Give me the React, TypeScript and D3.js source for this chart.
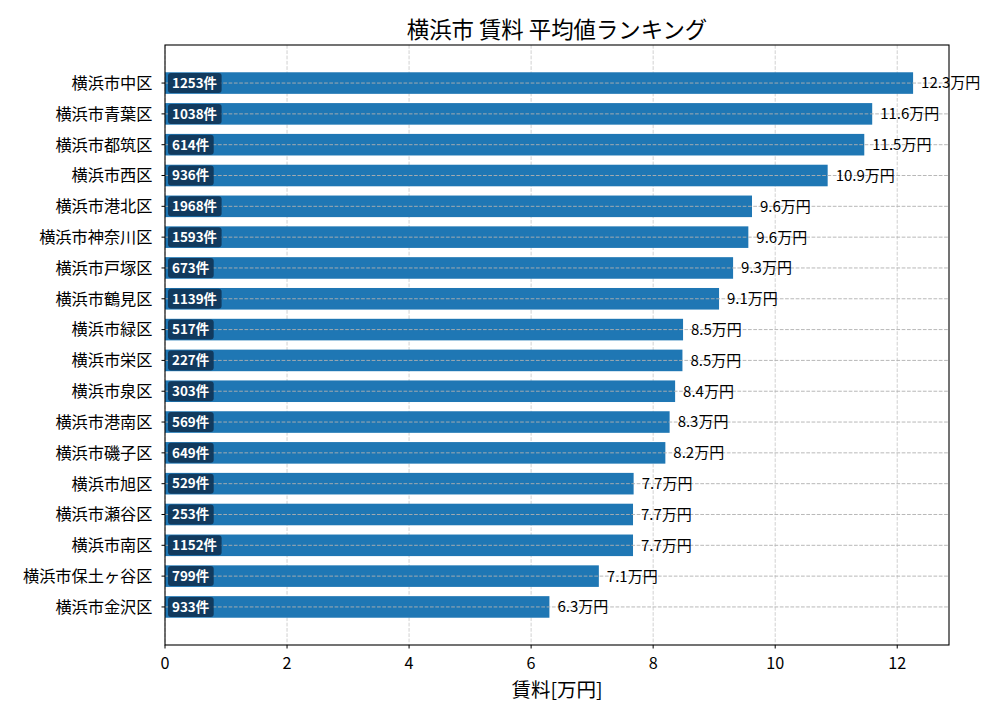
import * as d3 from "d3";

const wards = [
  "横浜市中区",
  "横浜市青葉区",
  "横浜市都筑区",
  "横浜市西区",
  "横浜市港北区",
  "横浜市神奈川区",
  "横浜市戸塚区",
  "横浜市鶴見区",
  "横浜市緑区",
  "横浜市栄区",
  "横浜市泉区",
  "横浜市港南区",
  "横浜市磯子区",
  "横浜市旭区",
  "横浜市瀬谷区",
  "横浜市南区",
  "横浜市保土ヶ谷区",
  "横浜市金沢区",
];
const rents = [12.26, 11.59, 11.46, 10.86, 9.62, 9.56, 9.31, 9.08, 8.49, 8.48, 8.36, 8.27, 8.2, 7.68, 7.67, 7.67, 7.11, 6.3];
const counts = [1253, 1038, 614, 936, 1968, 1593, 673, 1139, 517, 227, 303, 569, 649, 529, 253, 1152, 799, 933];
const xTicks = [0, 2, 4, 6, 8, 10, 12];

const font = "'Noto Sans CJK JP', 'Noto Sans', sans-serif";

export default function App() {
  const width = 1000;
  const height = 720;
  const left = 165;
  const right = 949;
  const top = 45;
  const bottom = 645;
  const n = wards.length;
  const barH = 0.7;
  const pad = (n - 1 + barH) * 0.05;

  const x = d3.scaleLinear().domain([0, d3.max(rents)! * 1.048]).range([left, right]);
  const y = d3
    .scaleLinear()
    .domain([-barH / 2 - pad, n - 1 + barH / 2 + pad])
    .range([top, bottom]);
  const bh = y(barH) - y(0);

  return (
    <svg width={width} height={height} style={{ position: "absolute", left: 0, top: 0 }} fontFamily={font}>
      <rect width={width} height={height} fill="#fff" />
      {xTicks.map((t) => (
        <line key={t} x1={x(t)} x2={x(t)} y1={top} y2={bottom} stroke="#b0b0b0" strokeOpacity={0.6} strokeDasharray="3.7,1.6" />
      ))}
      {rents.map((v, i) => (
        <rect key={i} x={x(0)} y={y(i) - bh / 2} width={x(v) - x(0)} height={bh} fill="#1f77b4" />
      ))}
      {wards.map((_, i) => (
        <line key={i} x1={left} x2={right} y1={y(i)} y2={y(i)} stroke="#b0b0b0" strokeOpacity={0.9} strokeDasharray="3.7,1.6" />
      ))}
      {counts.map((c, i) => {
        const label = `${c}件`;
        const w = String(c).length * 7.9 + 15 + 7;
        return (
          <g key={i}>
            <rect x={x(0) + 3} y={y(i) - 10} width={w} height={20} rx={3} fill="#0f3354" fillOpacity={0.9} />
            <text x={x(0) + 7} y={y(i)} dy="0.36em" fill="#fff" fontSize={13.4} fontWeight="bold">
              {label}
            </text>
          </g>
        );
      })}
      {rents.map((v, i) => (
        <text key={i} x={x(v) + 8} y={y(i)} dy="0.36em" fontSize={15} fill="#000">
          {`${v.toFixed(1)}万円`}
        </text>
      ))}
      <rect x={left} y={top} width={right - left} height={bottom - top} fill="none" stroke="#000" strokeWidth={1.1} />
      {wards.map((w, i) => (
        <g key={w}>
          <line x1={left - 3.5} x2={left} y1={y(i)} y2={y(i)} stroke="#000" />
          <text x={left - 12.5} y={y(i)} dy="0.36em" textAnchor="end" fontSize={16.2}>
            {w}
          </text>
        </g>
      ))}
      {xTicks.map((t) => (
        <g key={t}>
          <line x1={x(t)} x2={x(t)} y1={bottom} y2={bottom + 3.5} stroke="#000" />
          <text x={x(t)} y={bottom + 18} dy="0.36em" textAnchor="middle" fontSize={16.2}>
            {t}
          </text>
        </g>
      ))}
      <text x={(left + right) / 2} y={697} textAnchor="middle" fontSize={19.5}>
        賃料[万円]
      </text>
      <text x={(left + right) / 2} y={38} textAnchor="middle" fontSize={22.4}>
        横浜市 賃料 平均値ランキング
      </text>
    </svg>
  );
}
